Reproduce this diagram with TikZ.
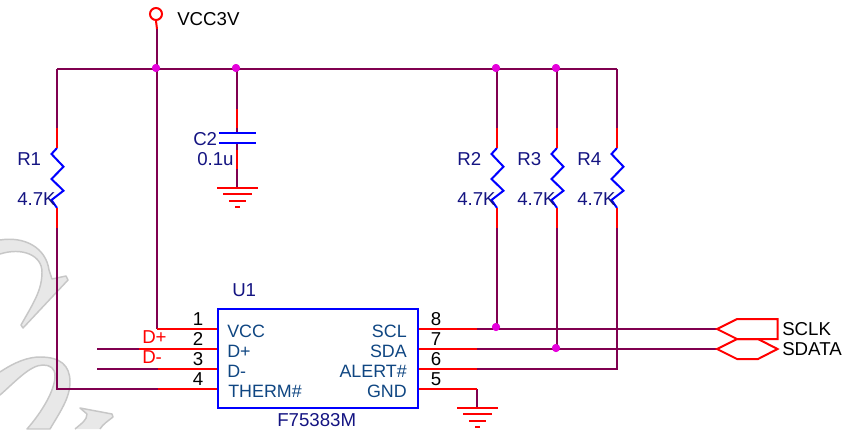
\documentclass[tikz,border=0pt]{standalone}
\usepackage{fontspec}
\setmainfont{Liberation Sans}
\definecolor{wirec}{RGB}{128,0,80}
\definecolor{pinc}{RGB}{255,0,0}
\definecolor{boxc}{RGB}{0,0,255}
\definecolor{refc}{RGB}{20,20,130}
\definecolor{pintxt}{RGB}{15,70,130}
\definecolor{juncc}{RGB}{230,0,220}
\tikzset{
  wire/.style={draw=wirec,line width=1.5pt,line join=miter},
  pinw/.style={draw=pinc,line width=1.5pt},
  part/.style={draw=boxc,line width=1.5pt},
  junc/.style={circle,fill=juncc,inner sep=0pt,minimum size=6pt},
  txt/.style={inner sep=0pt,font=\fontsize{14}{14}\selectfont,anchor=west},
  reft/.style={txt,text=refc},
  pint/.style={txt,text=pintxt,font=\fontsize{13.4}{14}\selectfont},
  pintr/.style={pint,anchor=east},
  num/.style={inner sep=0pt,font=\fontsize{14}{14}\selectfont,text=black},
  wm/.style={draw=black!22,fill=black!9,line width=1.1pt,line join=round},
  zig/.style={part,line join=miter},
}
\newcommand{\gndsym}[2]{%
  \draw[pinw] (#1-20.5,#2) -- (#1+20.5,#2);
  \draw[pinw] (#1-14.5,#2+6) -- (#1+14.5,#2+6);
  \draw[pinw] (#1-8.5,#2+12.5) -- (#1+8.5,#2+12.5);
  \draw[pinw] (#1-2.5,#2+18.5) -- (#1+2.5,#2+18.5);
}
\newcommand{\zigzag}[1]{%
  \draw[zig] (#1,148) -- (#1-5.5,154) -- (#1+6.5,166.7) -- (#1-5.5,179) -- (#1+6.5,190.7) -- (#1-5.5,200) -- (#1,208);
  \draw[pinw] (#1,128) -- (#1,148);
  \draw[pinw] (#1,208) -- (#1,228);
}
\begin{document}
\begin{tikzpicture}[x=0.75pt,y=-0.75pt]
\useasboundingbox (0,0) rectangle (845,429);
\fill[white] (0,0) rectangle (845,429);
% watermark
\draw[wm] (0,240) .. controls (25,236) and (46,248) .. (49,270) -- (52,279) -- (66,276) -- (68,280) -- (23,328) -- (21,325) .. controls (34,302) and (42,290) .. (42,272) .. controls (42,255) and (22,247) .. (0,254);
\draw[wm] (0,372) .. controls (15,362) and (28,357) .. (40,357) .. controls (60,357) and (70,365) .. (70,382) .. controls (70,398) and (60,412) .. (50,429) -- (27,429) .. controls (42,412) and (55,390) .. (55,376) .. controls (55,368) and (50,365) .. (43,365) .. controls (30,365) and (15,382) .. (0,395);
\draw[wm] (75,429) .. controls (82,423) and (87,420) .. (87,414) -- (80,408) -- (112,414) -- (113,417) .. controls (108,421) and (103,424) .. (100,429);
% coordinates
\node[circle,draw=pinc,line width=1.5pt,inner sep=0pt,minimum size=9pt] (vcc) at (156,14) {};
\coordinate (vccm) at (157,29);
\coordinate (tl) at (57,69);
\coordinate (tr) at (617,69);
\node[junc] (j1) at (156,68) {};
\node[junc] (j2) at (236,68) {};
\node[junc] (j3) at (496,68) {};
\node[junc] (j4) at (556,68) {};
\node[junc] (j5) at (496,327) {};
\node[junc] (j6) at (556,348) {};
% wires
\draw[pinw] (vcc.south) -- (vccm);
\draw[wire] (tl) -- (tr);
\draw[wire] (57,69) -- (57,128);
\draw[wire] (57,228) -- (57,388.5) -- (158,388.5);
\draw[wire] (157,29) -- (157,329);
\draw[wire] (237,69) -- (237,109);
\draw[wire] (497,69) -- (497,128);
\draw[wire] (497,228) -- (497,328.5);
\draw[wire] (557,69) -- (557,128);
\draw[wire] (557,228) -- (557,348.7);
\draw[wire] (617,69) -- (617,128);
\draw[wire] (617,228) -- (617,369) -- (477,369);
\draw[wire] (477,328.7) -- (717,328.7);
\draw[wire] (477,348.7) -- (717,348.7);
\draw[wire] (97,348.7) -- (139,348.7);
\draw[wire] (97,368.7) -- (158,368.7);
\draw[wire] (477,389) -- (477,408);
% left pins
\draw[pinw] (157,328.7) -- (217,328.7);
\draw[pinw] (139,348.7) -- (217,348.7);
\draw[pinw] (158,368.7) -- (217,368.7);
\draw[pinw] (158,388.5) -- (217,388.5);
% right pins
\draw[pinw] (417,328.7) -- (477,328.7);
\draw[pinw] (417,348.7) -- (477,348.7);
\draw[pinw] (417,369) -- (477,369);
\draw[pinw] (417,389) -- (477,389);
% junction dots on top
\node[junc] at (j1) {};
\node[junc] at (j2) {};
\node[junc] at (j3) {};
\node[junc] at (j4) {};
\node[junc] at (j5) {};
\node[junc] at (j6) {};
% resistors
\zigzag{57}
\zigzag{497}
\zigzag{557}
\zigzag{617}
% capacitor
\draw[pinw] (237,109) -- (237,128);
\draw[wire] (237,128) -- (237,132);
\draw[wire] (237,143) -- (237,150);
\draw[pinw] (237,150) -- (237,169);
\draw[wire] (237,169) -- (237,188);
\draw[part] (219,132.5) -- (256,132.5);
\draw[part] (219,142.5) -- (256,142.5);
\gndsym{237.5}{188}
\gndsym{477.5}{408}
% U1
\node[part,minimum width=150pt,minimum height=74.6pt,inner sep=0pt] (u1) at (317.5,358.5) {};
% offpage connectors
\draw[pinw,line join=miter] (717,329) -- (737,319) -- (777.5,319) -- (777.5,339) -- (737,339) -- cycle;
\draw[pinw,line join=miter] (717,349) -- (737,339) -- (758,339) -- (777.5,349) -- (758,359) -- (737,359) -- cycle;
% labels
\node[txt] (tvcc) at (177,19) {VCC3V};
\node[reft] (tr1) at (17,159) {R1};
\node[reft] (vr1) at (17,199) {4.7K};
\node[reft] (tr2) at (457,159) {R2};
\node[reft] (vr2) at (457,199) {4.7K};
\node[reft] (tr3) at (517,159) {R3};
\node[reft] (vr3) at (517,199) {4.7K};
\node[reft] (tr4) at (577,159) {R4};
\node[reft] (vr4) at (577,199) {4.7K};
\node[reft] (tc2) at (193,139) {C2};
\node[reft] (vc2) at (197,159) {0.1u};
\node[reft] (tu1) at (232,290.5) {U1};
\node[reft] (vu1) at (277,420) {F75383M};
\node[txt,text=pinc] (dp) at (142,337) {D+};
\node[txt,text=pinc] (dm) at (142,357) {D-};
\node[num] (n1) at (198,319) {1};
\node[num] (n2) at (198,339) {2};
\node[num] (n3) at (198,359) {3};
\node[num] (n4) at (198,379) {4};
\node[num] (n8) at (436,319) {8};
\node[num] (n7) at (436,339) {7};
\node[num] (n6) at (436,359) {6};
\node[num] (n5) at (436,379) {5};
\node[pint] (p1) at (227,331) {VCC};
\node[pint] (p2) at (227,351) {D+};
\node[pint] (p3) at (227,371) {D-};
\node[pint] (p4) at (228,391) {THERM\#};
\node[pintr] (p8) at (407,331) {SCL};
\node[pintr] (p7) at (407,351) {SDA};
\node[pintr] (p6) at (407,371) {ALERT\#};
\node[pintr] (p5) at (407,391) {GND};
\node[txt] (sclk) at (782,329) {SCLK};
\node[txt] (sdata) at (782,349) {SDATA};
\end{tikzpicture}
\end{document}
